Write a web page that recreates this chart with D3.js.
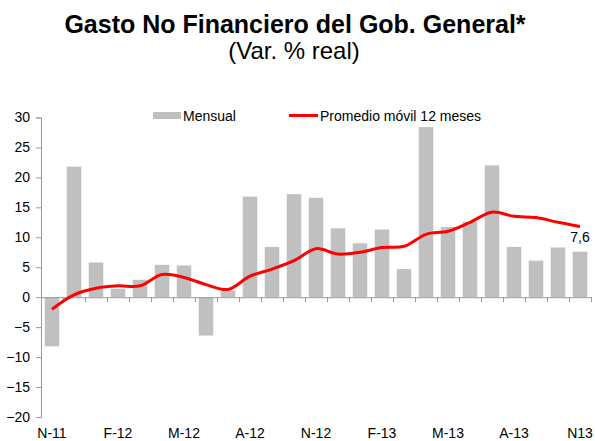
<!DOCTYPE html>
<html>
<head>
<meta charset="utf-8">
<script src="https://cdn.jsdelivr.net/npm/d3@7"></script>
<style>
  body { margin: 0; background: #fff; }
  svg text { font-family: "Liberation Sans", Arial, sans-serif; fill: #000; }
</style>
</head>
<body>
<div id="the_chart"></div>
<script>
// months N-11 .. N-13
var months = ['N-11','D-11','E-12','F-12','M-12','A-12','M-12','J-12','J-12','A-12','S-12','O-12',
              'N-12','D-12','E-13','F-13','M-13','A-13','M-13','J-13','J-13','A-13','S-13','O-13','N13'];
// monthly real var %
var mensual = [-8.2, 21.8, 5.8, 1.4, 2.9, 5.4, 5.3, -6.4, 1.1, 16.8, 8.4, 17.2,
               16.6, 11.5, 9.0, 11.3, 4.7, 28.4, 11.7, 12.6, 22.0, 8.4, 6.1, 8.3, 7.6];
// 12 month moving average
var promedio = [-2.0, 0.4, 1.5, 1.9, 1.9, 3.8, 3.3, 2.1, 1.3, 3.5, 4.7, 6.1,
                8.1, 7.2, 7.5, 8.3, 8.5, 10.5, 11.0, 12.5, 14.2, 13.5, 13.3, 12.5, 11.8];
var labelIdx = [0, 3, 6, 9, 12, 15, 18, 21, 24];
var yTicks = d3.range(-20, 31, 5);

var W = 595, H = 441;
var margin = {left: 41, right: 591, top: 117.5, bottom: 417};

var canvas = d3.select("#the_chart").append("svg")
  .attr("width", W).attr("height", H);

// titles
canvas.append("text").attr("x", 295).attr("y", 33)
  .attr("text-anchor", "middle").style("font-size", "25px").style("font-weight", "bold")
  .text("Gasto No Financiero del Gob. General*");
canvas.append("text").attr("x", 294).attr("y", 59)
  .attr("text-anchor", "middle").style("font-size", "24px")
  .text("(Var. % real)");

var xscale = d3.scaleBand().domain(d3.range(months.length)).range([margin.left, margin.right]).paddingInner(0.34).paddingOuter(0.17);
var xlin = d3.scaleLinear().domain([0, months.length]).range([margin.left, margin.right]);
var yscale = d3.scaleLinear().domain([-20, 30]).range([margin.bottom, margin.top]);

// bars
canvas.append("g").attr("id", "bars")
  .selectAll("rect").data(mensual).enter().append("rect")
  .attr("x", function(d, i) { return xscale(i); })
  .attr("width", xscale.bandwidth())
  .attr("y", function(d) { return yscale(Math.max(0, d)); })
  .attr("height", function(d) { return Math.abs(yscale(d) - yscale(0)); })
  .style("fill", "#c0c0c0");

// y axis
var yAxis = d3.axisLeft(yscale).tickValues(yTicks).tickSize(5).tickPadding(6);
var y_xis = canvas.append("g").attr("transform", "translate(" + margin.left + ",0)").call(yAxis);
y_xis.selectAll("text").style("font-size", "14px");
y_xis.selectAll("line, path").style("stroke", "#999");

// zero line w/ category ticks
var xAxis = d3.axisBottom(xlin).tickValues(d3.range(months.length + 1)).tickFormat("").tickSize(5).tickSizeOuter(0);
var x_xis = canvas.append("g").attr("transform", "translate(0," + yscale(0) + ")").call(xAxis);
x_xis.selectAll("line, path").style("stroke", "#999");

// month labels at bottom
var lab = canvas.append("g").attr("transform", "translate(0," + margin.bottom + ")")
  .call(d3.axisBottom(xscale).tickValues(labelIdx).tickSize(0).tickPadding(11)
        .tickFormat(function(i) { return months[i]; }));
lab.select(".domain").remove();
lab.selectAll("text").style("font-size", "14px");

// moving average line
var line = d3.line()
  .x(function(d, i) { return xscale(i) + xscale.bandwidth() / 2; })
  .y(function(d) { return yscale(d); })
  .curve(d3.curveCatmullRom.alpha(0.5));
canvas.append("path").datum(promedio)
  .attr("d", line).style("fill", "none").style("stroke", "#ff0000").style("stroke-width", 3);

// last value label
var last = mensual.length - 1;
canvas.append("text")
  .attr("x", xscale(last) + xscale.bandwidth() / 2).attr("y", 242)
  .attr("text-anchor", "middle").style("font-size", "14px")
  .text(String(mensual[last]).replace(".", ","));

// legend
var leg = canvas.append("g");
leg.append("rect").attr("x", 153).attr("y", 112).attr("width", 28).attr("height", 7).style("fill", "#c0c0c0");
leg.append("text").attr("x", 183).attr("y", 121).style("font-size", "14px").text("Mensual");
leg.append("line").attr("x1", 289).attr("x2", 318).attr("y1", 115.5).attr("y2", 115.5)
  .style("stroke", "#ff0000").style("stroke-width", 3);
leg.append("text").attr("x", 320).attr("y", 121).style("font-size", "14px").text("Promedio móvil 12 meses");
</script>
</body>
</html>
